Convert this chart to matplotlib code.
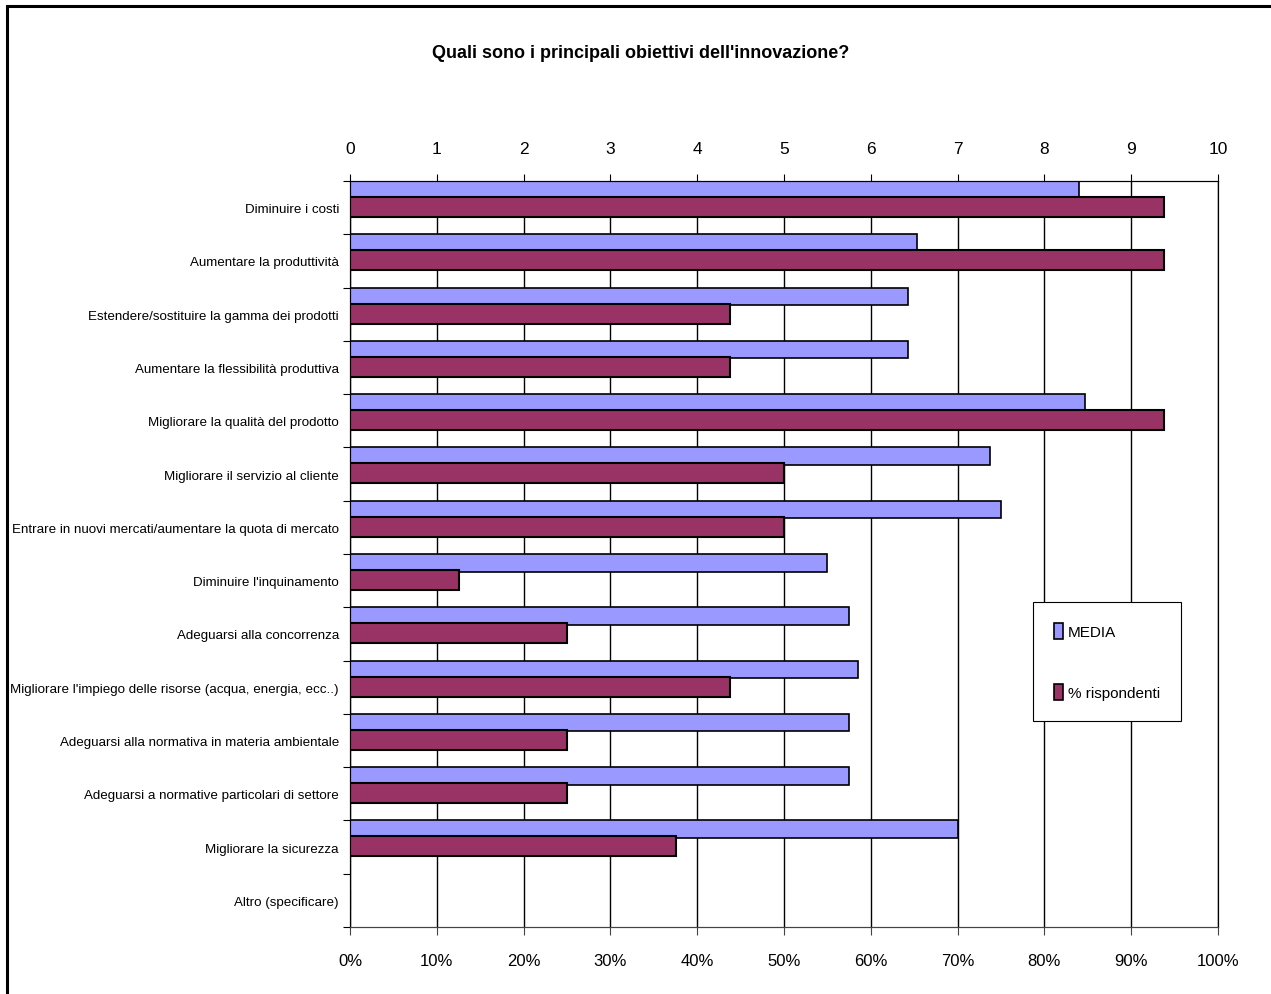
import matplotlib
matplotlib.use("Agg")
from matplotlib import pyplot as plt
from matplotlib.patches import Rectangle, Patch
import numpy as np

categories = [
    "Diminuire i costi",
    "Aumentare la produttività",
    "Estendere/sostituire la gamma dei prodotti",
    "Aumentare la flessibilità produttiva",
    "Migliorare la qualità del prodotto",
    "Migliorare il servizio al cliente",
    "Entrare in nuovi mercati/aumentare la quota di mercato",
    "Diminuire l'inquinamento",
    "Adeguarsi alla concorrenza",
    "Migliorare l'impiego delle risorse (acqua, energia, ecc..)",
    "Adeguarsi alla normativa in materia ambientale",
    "Adeguarsi a normative particolari di settore",
    "Migliorare la sicurezza",
    "Altro (specificare)",
]
media = [8.4, 6.53, 6.43, 6.43, 8.47, 7.37, 7.5, 5.5, 5.75, 5.85, 5.75, 5.75, 7.0, 0]
rispondenti = [93.75, 93.75, 43.75, 43.75, 93.75, 50, 50, 12.5, 25, 43.75, 25, 25, 37.5, 0]
media_ticks = list(range(0, 11))
pct_ticks = list(range(0, 101, 10))

plt.rcParams["font.family"] = ["Liberation Sans", "DejaVu Sans"]

blue = "#9999FF"
maroon = "#993366"

fig = plt.figure(figsize=(12.71, 9.95), dpi=100)
ax = fig.add_axes([350/1271, 1-928/995, 868/1271, 746/995])
ax2 = ax.twiny()
ax2.set_zorder(ax.get_zorder() - 1)
ax.patch.set_visible(False)

y = np.arange(len(categories))
ax2.barh(y + 0.0, media, height=0.33, align="edge", color=blue,
         edgecolor="black", linewidth=1.2)
ax.barh(y + 0.30, rispondenti, height=0.375, align="edge", color=maroon,
        edgecolor="black", linewidth=1.5)

ax.set_xlim(0, 100)
ax2.set_xlim(0, 10)
ax.set_ylim(len(categories), 0)
ax2.set_ylim(len(categories), 0)

ax2.set_xticks(media_ticks)
ax2.set_xticklabels([str(t) for t in media_ticks])
ax2.grid(axis="x", color="black", linewidth=1.0)
ax2.set_axisbelow(True)
ax2.tick_params(axis="x", direction="out", length=5, pad=13, labelsize=12.5)

ax.set_xticks(pct_ticks)
ax.set_xticklabels([f"{t}%" for t in pct_ticks])
ax.tick_params(axis="x", direction="out", length=6, pad=13, labelsize=12,
               color="#444444")

ax.set_yticks(np.arange(len(categories) + 1), minor=False)
ax.set_yticklabels([""] * (len(categories) + 1))
ax.set_yticks(y + 0.5, minor=True)
ax.set_yticklabels(categories, minor=True)
ax.tick_params(axis="y", which="major", direction="out", length=5)
ax.tick_params(axis="y", which="minor", length=0, pad=8, labelsize=11)
ax2.tick_params(axis="y", left=False, labelleft=False)

for a in (ax, ax2):
    a.spines["left"].set_color("black")
    a.spines["top"].set_color("black")
    a.spines["right"].set_color("black")
    a.spines["bottom"].set_color("#444444")

title = fig.text(0.504, 1-53/995, "Quali sono i principali obiettivi dell'innovazione?",
                 ha="center", va="center", fontsize=13, fontweight="bold")

handles = [Patch(facecolor=blue, edgecolor="black", linewidth=1.2, label="MEDIA"),
           Patch(facecolor=maroon, edgecolor="black", linewidth=1.2, label="% rispondenti")]
leg = fig.legend(handles=handles, loc="upper left",
                 bbox_to_anchor=(1033/1271, 1-603/995),
                 fancybox=False, framealpha=1, edgecolor="black",
                 fontsize=11, handlelength=0.6, handleheight=1.3,
                 handletextpad=0.35, labelspacing=2.9, borderpad=1.35,
                 borderaxespad=0)
leg.get_frame().set_linewidth(0.8)

# shrink long labels so they fit left of the plot like in the reference
fig.canvas.draw()
r = fig.canvas.get_renderer()
widest = max(t.get_window_extent(r).width for t in ax.get_yticklabels(minor=True))
if widest > 328:
    ax.tick_params(axis="y", which="minor", labelsize=11 * 328 / widest)

fig.patches.append(Rectangle((7/1271, -0.02), 1.05, 1-7/995 + 0.02,
                             transform=fig.transFigure, fill=False,
                             edgecolor="black", linewidth=2.2, clip_on=False))

fig.savefig("out.png", dpi=100)
